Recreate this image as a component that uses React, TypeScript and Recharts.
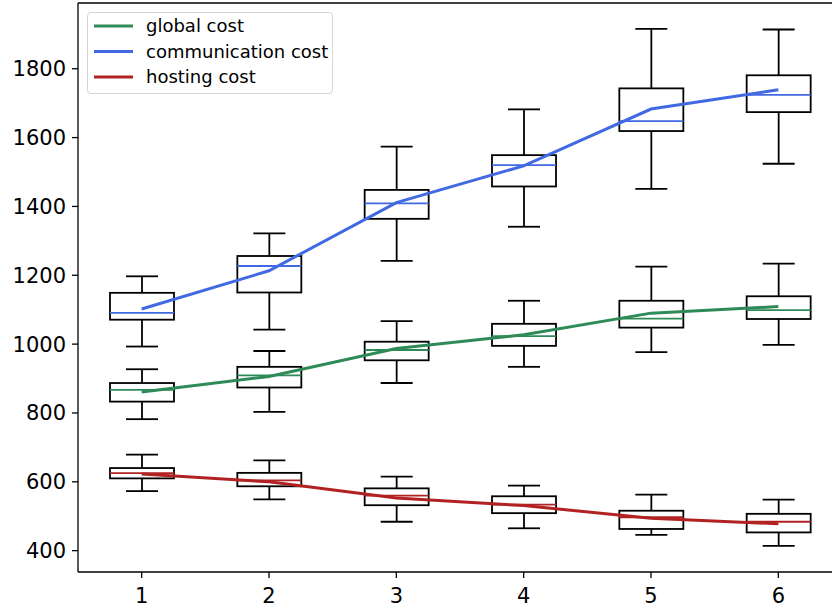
import {
  ComposedChart,
  Bar,
  Line,
  XAxis,
  YAxis,
  ReferenceLine,
} from "recharts";

// box stats per position: [min, q1, median, q3, max]
const positions = ["1", "2", "3", "4", "5", "6"];

const globalBoxes = [
  [782, 833, 867, 887, 927],
  [803, 874, 909, 934, 980],
  [887, 953, 983, 1007, 1067],
  [934, 995, 1023, 1059, 1126],
  [977, 1048, 1074, 1126, 1225],
  [998, 1073, 1099, 1139, 1234],
];
const commBoxes = [
  [993, 1071, 1091, 1149, 1197],
  [1042, 1150, 1227, 1256, 1322],
  [1242, 1364, 1409, 1448, 1574],
  [1341, 1458, 1520, 1549, 1682],
  [1451, 1619, 1648, 1743, 1916],
  [1524, 1674, 1724, 1781, 1914],
];
const hostingBoxes = [
  [573, 610, 625, 640, 679],
  [549, 587, 604, 626, 662],
  [484, 532, 560, 581, 615],
  [465, 509, 534, 558, 589],
  [446, 463, 497, 516, 563],
  [414, 453, 484, 507, 548],
];

const globalMean = [861, 906, 987, 1027, 1090, 1109];
const commMean = [1102, 1213, 1411, 1518, 1683, 1739];
const hostingMean = [623, 600, 553, 531, 494, 478];

const yTicks = [400, 600, 800, 1000, 1200, 1400, 1600, 1800];
const Y_MIN = 338;
const Y_MAX = 1991;

const GREEN = "#2e8b57";
const BLUE = "#4169e1";
const RED = "#b22222";
const FONT = "DejaVu Sans, sans-serif";
const TICK_FONT = 21;

const rows = positions.map((p, i) => ({
  pos: p,
  g: globalBoxes[i],
  c: commBoxes[i],
  h: hostingBoxes[i],
  gMean: globalMean[i],
  cMean: commMean[i],
  hMean: hostingMean[i],
}));

// draws whiskers, box and median inside the [min, max] bar rect
const boxShape = (key: "g" | "c" | "h", color: string) => (props: any) => {
  const { x, y, width, height, payload } = props;
  const [mn, q1, md, q3, mx] = payload[key] as number[];
  const top = Math.min(y, y + height);
  const bottom = Math.max(y, y + height);
  const py = (v: number) => top + ((mx - v) / (mx - mn)) * (bottom - top);
  const cx = x + width / 2;
  const cap = width / 4;
  const sw = 1.8;
  return (
    <g>
      <line x1={cx} x2={cx} y1={py(mx)} y2={py(q3)} stroke="#000" strokeWidth={sw} />
      <line x1={cx} x2={cx} y1={py(q1)} y2={py(mn)} stroke="#000" strokeWidth={sw} />
      <line x1={cx - cap} x2={cx + cap} y1={py(mx)} y2={py(mx)} stroke="#000" strokeWidth={sw} />
      <line x1={cx - cap} x2={cx + cap} y1={py(mn)} y2={py(mn)} stroke="#000" strokeWidth={sw} />
      <rect
        x={x}
        y={py(q3)}
        width={width}
        height={py(q1) - py(q3)}
        fill="none"
        stroke="#000"
        strokeWidth={sw}
      />
      <line x1={x} x2={x + width} y1={py(md)} y2={py(md)} stroke={color} strokeWidth={sw} />
    </g>
  );
};

const legendItems = [
  { name: "global cost", color: GREEN },
  { name: "communication cost", color: BLUE },
  { name: "hosting cost", color: RED },
];

export default function App() {
  return (
    <div
      style={{
        position: "fixed",
        left: 0,
        top: 0,
        width: 832,
        height: 608,
        overflow: "hidden",
        background: "#fff",
        fontFamily: FONT,
      }}
    >
      <ComposedChart
        width={845}
        height={608}
        data={rows}
        margin={{ top: 3, right: 3, bottom: 0, left: 0 }}
      >
        <XAxis
          xAxisId="x"
          dataKey="pos"
          type="category"
          height={36}
          padding={{ left: 0, right: 0 }}
          tick={{ fontSize: TICK_FONT, fill: "#000", fontFamily: FONT }}
          tickSize={6}
          tickMargin={10}
          tickLine={{ stroke: "#000", strokeWidth: 1.3 }}
          axisLine={{ stroke: "#000", strokeWidth: 1.3 }}
        />
        <XAxis xAxisId="x2" dataKey="pos" type="category" hide />
        <XAxis xAxisId="x3" dataKey="pos" type="category" hide />
        <YAxis
          type="number"
          domain={[Y_MIN, Y_MAX]}
          ticks={yTicks}
          allowDataOverflow
          width={78}
          tick={{ fontSize: TICK_FONT, fill: "#000", fontFamily: FONT }}
          tickSize={6}
          tickMargin={6}
          tickLine={{ stroke: "#000", strokeWidth: 1.3 }}
          axisLine={{ stroke: "#000", strokeWidth: 1.3 }}
        />
        <ReferenceLine xAxisId="x" y={Y_MAX} stroke="#000" strokeWidth={1.3} />

        <Bar
          xAxisId="x"
          dataKey={(d: any) => [d.g[0], d.g[4]]}
          barSize={64}
          shape={boxShape("g", GREEN)}
          isAnimationActive={false}
        />
        <Bar
          xAxisId="x2"
          dataKey={(d: any) => [d.c[0], d.c[4]]}
          barSize={64}
          shape={boxShape("c", BLUE)}
          isAnimationActive={false}
        />
        <Bar
          xAxisId="x3"
          dataKey={(d: any) => [d.h[0], d.h[4]]}
          barSize={64}
          shape={boxShape("h", RED)}
          isAnimationActive={false}
        />

        <Line xAxisId="x" dataKey="gMean" stroke={GREEN} strokeWidth={3} dot={false} isAnimationActive={false} />
        <Line xAxisId="x" dataKey="cMean" stroke={BLUE} strokeWidth={3} dot={false} isAnimationActive={false} />
        <Line xAxisId="x" dataKey="hMean" stroke={RED} strokeWidth={3} dot={false} isAnimationActive={false} />
      </ComposedChart>

      <div
        style={{
          position: "absolute",
          left: 87,
          top: 12,
          width: 244,
          height: 80,
          border: "1.3px solid #d4d4d4",
          borderRadius: 4,
          background: "rgba(255,255,255,0.8)",
        }}
      >
        <svg width={244} height={80}>
          {legendItems.map((it, i) => (
            <g key={it.name}>
              <line
                x1={6}
                x2={45}
                y1={13 + i * 25.5}
                y2={13 + i * 25.5}
                stroke={it.color}
                strokeWidth={3}
              />
              <text
                x={58}
                y={13 + i * 25.5}
                dy="0.35em"
                fontSize={18}
                fontFamily={FONT}
                fill="#000"
              >
                {it.name}
              </text>
            </g>
          ))}
        </svg>
      </div>
    </div>
  );
}
